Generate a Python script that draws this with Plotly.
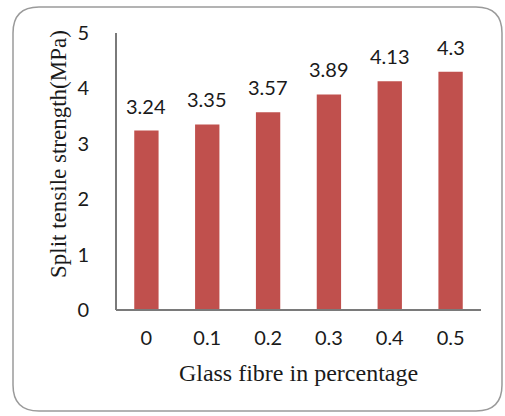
import plotly.graph_objects as go

# Split tensile strength vs glass fibre content
fibre_pct = ["0", "0.1", "0.2", "0.3", "0.4", "0.5"]
strength_mpa = [3.24, 3.35, 3.57, 3.89, 4.13, 4.3]
y_ticks = [0, 1, 2, 3, 4, 5]

W, H = 505, 416
L, R, T, B = 116, 24, 33, 106
pw, ph = W - L - R, H - T - B

def px_to_paper(x, y):
    return (x - L) / pw, (H - B - y) / ph

# rounded outer frame, drawn in paper coordinates
x0, y0, x1, y1, r = 13, 7, 502, 411, 26
pts = {
    "a": px_to_paper(x0 + r, y0), "b": px_to_paper(x1 - r, y0),
    "c": px_to_paper(x1, y0), "d": px_to_paper(x1, y0 + r),
    "e": px_to_paper(x1, y1 - r), "f": px_to_paper(x1, y1),
    "g": px_to_paper(x1 - r, y1), "h": px_to_paper(x0 + r, y1),
    "i": px_to_paper(x0, y1), "j": px_to_paper(x0, y1 - r),
    "k": px_to_paper(x0, y0 + r), "l": px_to_paper(x0, y0),
}
p = lambda k: f"{pts[k][0]:.5f},{pts[k][1]:.5f}"
frame = (f"M {p('a')} L {p('b')} Q {p('c')} {p('d')} L {p('e')} Q {p('f')} {p('g')} "
         f"L {p('h')} Q {p('i')} {p('j')} L {p('k')} Q {p('l')} {p('a')} Z")

bar_color = "#C0504D"
axis_color = "#7a7a7a"
label_font = dict(family="Lato, Carlito, sans-serif", size=20, color="#1a1a1a")
serif = "Liberation Serif, Times New Roman, serif"

fig = go.Figure(go.Bar(
    x=fibre_pct, y=strength_mpa,
    marker=dict(color=bar_color, line=dict(width=0)),
    hoverinfo="skip",
))

# value labels above each bar (category axis -> position by index)
for i, val in enumerate(strength_mpa):
    fig.add_annotation(x=i, y=val, text=f"{val:g}", showarrow=False,
                       yanchor="bottom", yshift=11, font=label_font)

fig.add_annotation(xref="paper", yref="paper",
                   x=px_to_paper(58, 0)[0], y=px_to_paper(0, 154)[1],
                   text="Split tensile strength(MPa)", textangle=-90,
                   showarrow=False, xanchor="center", yanchor="middle",
                   font=dict(family=serif, size=23, color="#1a1a1a"))

fig.add_shape(type="path", path=frame, xref="paper", yref="paper",
              line=dict(color="#9a9a9a", width=1.5),
              fillcolor="rgba(0,0,0,0)", layer="above")

# axis lines
fig.add_shape(type="line", xref="paper", yref="paper", x0=0, x1=0, y0=0, y1=1,
              line=dict(color=axis_color, width=2), layer="above")
fig.add_shape(type="line", xref="paper", yref="paper", x0=0, x1=1, y0=0, y1=0,
              line=dict(color=axis_color, width=2), layer="above")

fig.update_layout(
    width=W, height=H,
    margin=dict(l=L, r=R, t=T, b=B),
    paper_bgcolor="white", plot_bgcolor="white",
    bargap=0.6, showlegend=False,
    xaxis=dict(
        type="category", showgrid=False, ticks="", showline=False,
        tickfont=label_font, ticklabelstandoff=14,
        title=dict(text="Glass fibre in percentage", standoff=16,
                   font=dict(family=serif, size=24, color="#1a1a1a")),
    ),
    yaxis=dict(
        range=[0, 5], tickvals=y_ticks, showgrid=False, ticks="",
        showline=False, tickfont=label_font, ticklabelstandoff=26,
        zeroline=False,
    ),
)

fig.write_html("out.html")
